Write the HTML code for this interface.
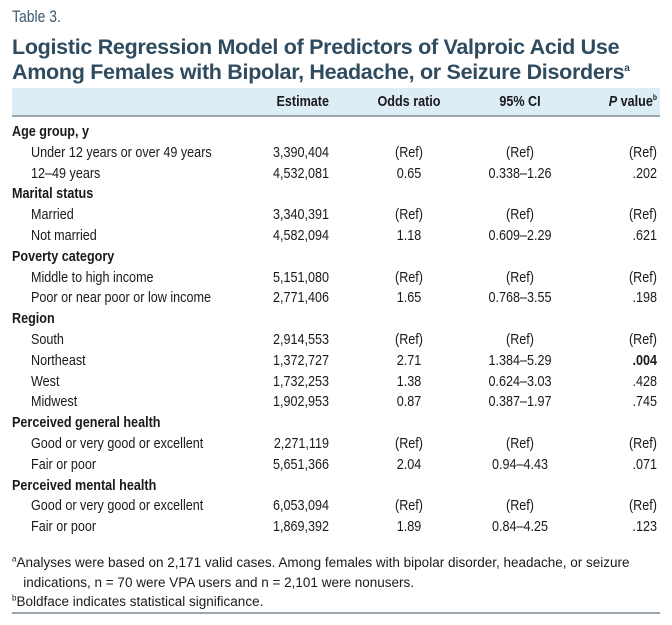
<!DOCTYPE html>
<html><head><meta charset="utf-8"><style>
body{margin:0;width:672px;height:625px;background:#fff;position:relative;overflow:hidden;font-family:"Liberation Sans",sans-serif;color:#1a1a1a}
.a{position:absolute;white-space:nowrap;line-height:1}
.t{font-size:15px}
.b{font-weight:bold}
.l{transform:scaleX(0.84);transform-origin:left center}
.r{text-align:right;transform:scaleX(0.84);transform-origin:right center}
.c{text-align:center;transform:scaleX(0.84);transform-origin:center center}
sup{line-height:0}
</style></head><body>
<div class="a" style="left:12px;top:8px;font-size:17px;color:#3a5a72;transform:scaleX(0.82);transform-origin:left center">Table 3.</div>
<div class="a" style="left:12px;top:35px;font-size:21.5px;font-weight:bold;color:#2f4b5f;line-height:25px;letter-spacing:-0.3px">Logistic Regression Model of Predictors of Valproic Acid Use<br>Among Females with Bipolar, Headache, or Seizure Disorders<sup style="font-size:10px">a</sup></div>
<div class="a" style="left:12px;top:88px;width:648px;height:27px;background:#dcedf6;border-bottom:2px solid #9aa7ae"></div>
<div class="a t b r" style="left:229px;top:94px;width:100px">Estimate</div>
<div class="a t b c" style="left:359px;top:94px;width:100px">Odds ratio</div>
<div class="a t b c" style="left:470px;top:94px;width:100px">95% CI</div>
<div class="a t b r" style="left:557px;top:94px;width:100px"><i>P</i> value<sup style="font-size:8px">b</sup></div>
<div id="rows"></div>
<div class="a" style="left:12px;top:553px;font-size:13.5px;line-height:19.5px">
<sup style="font-size:8px">a</sup>Analyses were based on 2,171 valid cases. Among females with bipolar disorder, headache, or seizure<br>&nbsp;&nbsp;&nbsp;indications, n = 70 were VPA users and n = 2,101 were nonusers.<br><sup style="font-size:8px">b</sup>Boldface indicates statistical significance.</div>
<div class="a" style="left:12px;top:612px;width:648px;height:2px;background:#9aa7ae"></div>
<script>
const rows=[
["h","Age group, y"],
["r","Under 12 years or over 49 years","3,390,404","(Ref)","(Ref)","(Ref)"],
["r","12–49 years","4,532,081","0.65","0.338–1.26",".202"],
["h","Marital status"],
["r","Married","3,340,391","(Ref)","(Ref)","(Ref)"],
["r","Not married","4,582,094","1.18","0.609–2.29",".621"],
["h","Poverty category"],
["r","Middle to high income","5,151,080","(Ref)","(Ref)","(Ref)"],
["r","Poor or near poor or low income","2,771,406","1.65","0.768–3.55",".198"],
["h","Region"],
["r","South","2,914,553","(Ref)","(Ref)","(Ref)"],
["r","Northeast","1,372,727","2.71","1.384–5.29",".004",1],
["r","West","1,732,253","1.38","0.624–3.03",".428"],
["r","Midwest","1,902,953","0.87","0.387–1.97",".745"],
["h","Perceived general health"],
["r","Good or very good or excellent","2,271,119","(Ref)","(Ref)","(Ref)"],
["r","Fair or poor","5,651,366","2.04","0.94–4.43",".071"],
["h","Perceived mental health"],
["r","Good or very good or excellent","6,053,094","(Ref)","(Ref)","(Ref)"],
["r","Fair or poor","1,869,392","1.89","0.84–4.25",".123"]];
const box=document.getElementById('rows');
function mk(txt,cls,l,w,top,name){const d=document.createElement('div');d.className='a t '+cls;d.style.left=l+'px';d.style.top=top+'px';if(w)d.style.width=w+'px';d.textContent=txt;


box.appendChild(d);return d;}
rows.forEach((r,i)=>{const top=124+i*20.8;
if(r[0]=='h'){mk(r[1],'b l',12,0,top,'group-heading');}
else{mk(r[1],'l',31,0,top,'row-label');mk(r[2],'r',229,100,top,'estimate-cell');mk(r[3],'c',359,100,top,'odds-ratio-cell');mk(r[4],'c',470,100,top,'ci-cell');mk(r[5],'r'+(r[6]?' b':''),557,100,top,'p-value-cell');}});
</script>
</body></html>
